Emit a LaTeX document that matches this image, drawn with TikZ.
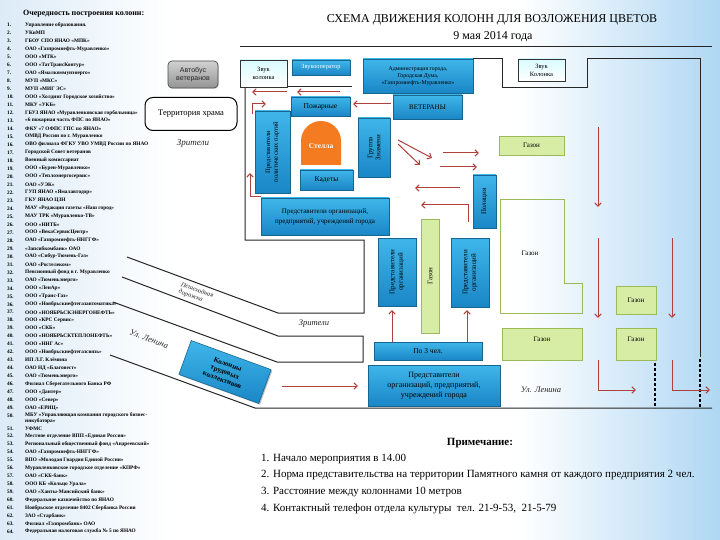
\documentclass[tikz,border=0pt]{standalone}
\usepackage{fontspec}
\setmainfont{Liberation Serif}
\setsansfont{Liberation Sans}
\usetikzlibrary{arrows.meta,shadows}
\definecolor{bluetop}{HTML}{3FB6EA}
\definecolor{bluebot}{HTML}{1A86C6}
\definecolor{blueedge}{HTML}{16668F}
\definecolor{grfill}{HTML}{D7EDA6}
\definecolor{gredge}{HTML}{9BBB59}
\definecolor{arrred}{HTML}{B0403C}
\definecolor{stellaor}{HTML}{F47B20}
\definecolor{bgblue}{HTML}{AFD7F3}
\definecolor{bgleft}{HTML}{DCEBF7}
\newcommand\fsz[2]{\fontsize{#1}{#2}\selectfont}
\begin{document}
\begin{tikzpicture}[x=1pt,y=-1pt,
  bluebox/.style={draw=blueedge, line width=0.6pt, top color=bluetop, bottom color=bluebot,
    inner sep=1pt, align=center, text=black,
    drop shadow={shadow xshift=1.2pt,shadow yshift=-1.2pt,fill=black,opacity=0.25}},
  greenbox/.style={draw=gredge, line width=0.9pt, fill=grfill, inner sep=1pt, align=center, font=\fsz{7}{8}},
  arr/.style={draw=arrred, line width=1pt, -{Straight Barb[length=3.5pt,width=6.5pt]}},
  road/.style={draw=black!85, line width=1pt},
  dotline/.style={draw=black, line width=2.6pt, dash pattern=on 2.6pt off 2.4pt},
  listnum/.style={anchor=west, inner sep=0pt, font=\fsz{5.3}{6}\bfseries},
  listitem/.style={anchor=west, inner sep=0pt, font=\fsz{5.3}{6}\bfseries},
  note/.style={anchor=west, inner sep=0pt, font=\fsz{11}{12}},
  lbl/.style={inner sep=0pt, font=\fsz{8.5}{10}\itshape, text=black!85}
]
\useasboundingbox (0,0) rectangle (720,540);
\fill[white] (0,0) rectangle (720,540);
\shade[left color=bgleft, right color=white] (0,0) rectangle (170,540);
\shade[left color=white, right color=bgblue] (520,0) rectangle (720,540);

% ---------- list ----------
\node[anchor=west, inner sep=0pt, font=\fsz{8}{9}\bfseries] (listtitle) at (23,14) {Очередность построения колонн:};
\foreach \t [count=\i] in {{Управление образования.},{УКиМП},{ГБОУ СПО ЯНАО «МПК»},{ОАО «Газпромнефть-Муравленко»},{ООО «МТК»},{ООО «ТатТрансКонтур»},{ОАО «Ямалкоммунэнерго»},{МУП «МКС»},{МУП «МИГ ЭС»},{ООО «Холдинг Городское хозяйство»},{МКУ «УКБ»},{ГБУЗ ЯНАО «Муравленковская горбольница»},{«6 пожарная часть ФПС по ЯНАО»},{ФКУ «7 ОФПС ГПС по ЯНАО»},{ОМВД России по г. Муравленко},{ОВО филиала ФГКУ УВО УМВД России по ЯНАО},{Городской Совет ветеранов},{Военный комиссариат},{ООО «Бурен-Муравленко»},{ООО «Теплоэнергосервис»},{ОАО «УЭК»},{ГУП ЯНАО «Ямалавтодор»},{ГКУ ЯНАО ЦЗН},{МАУ «Редакция газеты «Наш город»},{МАУ ТРК «Муравленко-ТВ»},{ООО «НИТБ»},{ООО «ВекаСервисЦентр»},{ОАО «Газпромнефть-ННГГФ»},{«Запсибкомбанк» ОАО},{ОАО «Сибур-Тюмень-Газ»},{ОАО «Ростелеком»},{Пенсионный фонд в г. Муравленко},{ОАО «Тюменьэнерго»},{ООО «ЛенАр»},{ООО «Транс-Газ»},{ООО «Ноябрьскнефтегазавтоматика»},{ООО «НОЯБРЬСКЭНЕРГОНЕФТЬ»},{ООО «КРС Сервис»},{ООО «СКБ»},{ООО «НОЯБРЬСКТЕПЛОНЕФТЬ»},{ООО «ННГ Ас»},{ООО «Ноябрьскнефтегазсвязь»},{ИП Л.Г. Клёмина},{ОАО НД «Благовест»},{ОАО «Тюменьэнерго»},{Филиал Сберегательного Банка РФ},{ООО «Дантер»},{ООО «Север»},{ОАО «ЕРИЦ»}}{
  \pgfmathsetmacro\yy{25+(\i-1)*7.98}
  \node[listnum] (ln\i) at (7,\yy) {\i.};
  \node[listitem] (li\i) at (25,\yy) {\t};
}
\node[listnum] (ln50) at (7,415.5) {50.};
\node[listitem] (li50) at (25,415.5) {МБУ «Управляющая компания городского бизнес-};
\node[listitem] (li50b) at (25,421.2) {инкубатора»};
\foreach \t [count=\i from 51] in {{УФМС},{Местное отделение ВПП «Единая Россия»},{Региональный общественный фонд «Андреевский»},{ОАО «Газпромнефть-ННГГФ»},{ВПО «Молодая Гвардия Единой России»},{Муравленковское городское отделение «КПРФ»},{ОАО «СКБ-банк»},{ООО КБ «Кольцо Урала»},{ОАО «Ханты-Мансийский банк»},{Федеральное казначейство по ЯНАО},{Ноябрьское отделение 8402 Сбербанка России},{ЗАО «Старбанк»},{Филиал «Газпромбанк» ОАО},{Федеральная налоговая служба № 5 по ЯНАО}}{
  \pgfmathsetmacro\yy{428.3+(\i-51)*7.95}
  \node[listnum] (ln\i) at (7,\yy) {\i.};
  \node[listitem] (li\i) at (25,\yy) {\t};
}

% ---------- titles ----------
\node[font=\fsz{12}{13}] (title) at (492,20) {СХЕМА ДВИЖЕНИЯ КОЛОНН ДЛЯ ВОЗЛОЖЕНИЯ ЦВЕТОВ};
\node[font=\fsz{12}{13}] (date) at (493,37) {9 мая 2014 года};
\draw[road] (240,47) -- (712,47);

% ---------- left side ----------
\node[draw=black!70, line width=0.7pt, rounded corners=4pt, top color=black!18, bottom color=black!42,
  minimum width=50, minimum height=27, align=center, font=\sffamily\fsz{7}{8.2}, text=black!85,
  drop shadow={shadow xshift=1pt,shadow yshift=-1pt,opacity=0.25}] (bus) at (193,74.5) {Автобус\\ветеранов};
\node[draw=black, line width=1pt, rounded corners=8pt, fill=white, minimum width=92, minimum height=33,
  font=\fsz{8.5}{10}] (temple) at (191,114) {Территория храма};
\node[lbl, font=\fsz{9}{10}\itshape] (zr1) at (193,143) {Зрители};

% ---------- outline lines ----------
\draw[road] (245,87) -- (245,240) -- (364,240) -- (364,313) -- (278,313) -- (127,257);
\draw[road] (287,87) -- (352,87);
\draw[road] (122,277) -- (278,336) -- (363,336) -- (363,362) -- (277,362) -- (113,302);
\draw[road] (110,355) -- (255,408) -- (712,408);
\draw[road] (473,59) -- (502,59) -- (502,88) -- (587,88) -- (587,59) -- (700,59) -- (700,357);
\draw[dotline] (700,359) -- (700,408);
\draw[dotline] (655,363) -- (655,408);

% ---------- speaker boxes ----------
\node[draw=black!80, line width=0.8pt, top color=blue!10!cyan!15, bottom color=white, minimum width=47, minimum height=27,
  align=center, font=\fsz{6.5}{8}] (zk1) at (263.5,73.5) {Звук\\колонка};
\node[draw=black!80, line width=0.8pt, top color=blue!10!cyan!15, bottom color=white, minimum width=47, minimum height=22,
  align=center, font=\fsz{6.5}{8}] (zk2) at (541.5,70) {Звук\\Колонка};

% ---------- blue boxes ----------
\node[bluebox, minimum width=58, minimum height=15, font=\fsz{6.3}{7}, text=white] (zvukop) at (321,67.5) {Звукооператор};
\node[bluebox, minimum width=110, minimum height=34, font=\fsz{5.8}{6.8}] (admin) at (418,76) {Администрация города,\\Городская Дума,\\«Газпромнефть-Муравленко»};
\node[bluebox, minimum width=69, minimum height=24, font=\fsz{7}{8}] (veterany) at (427.5,107) {ВЕТЕРАНЫ};
\node[bluebox, minimum width=59, minimum height=19, font=\fsz{7.5}{8}] (pozh) at (320.5,106.5) {Пожарные};
\node[bluebox, rotate=90, minimum width=82, minimum height=35, font=\fsz{6.6}{7.6}] (polit) at (272.5,152) {Представители\\политических партий};
\node[bluebox, rotate=90, minimum width=59, minimum height=32, font=\fsz{7}{8}] (znamya) at (374,147.5) {Группа\\Знамени};
\node[bluebox, minimum width=53, minimum height=20, font=\fsz{7.5}{8}] (kadety) at (326.5,180) {Кадеты};
\node[bluebox, rotate=90, minimum width=53, minimum height=23, font=\fsz{7}{8}] (policia) at (484.5,201.5) {Полиция};
\node[bluebox, minimum width=128, minimum height=37, font=\fsz{7}{10}] (pred1) at (325,216.5) {Представители организаций,\\предприятий, учреждений города};
\node[bluebox, rotate=90, minimum width=68, minimum height=38, font=\fsz{7}{8.5}] (predL) at (397,272) {Представители\\организаций};
\node[bluebox, rotate=90, minimum width=69, minimum height=38, font=\fsz{7}{8.5}] (predR) at (470,272.5) {Представители\\организаций};
\node[bluebox, minimum width=108, minimum height=18, font=\fsz{7.5}{8}] (po3) at (428,351) {По 3 чел.};
\node[bluebox, minimum width=132, minimum height=41, font=\fsz{8}{10}] (predB) at (434,385.5) {Представители\\организаций, предприятий,\\учреждений города};
\node[bluebox, rotate=-20, minimum width=85, minimum height=36, font=\fsz{7}{8.2}\bfseries] (kolonny) at (225,372) {Колонны\\трудовых\\коллективов};

% ---------- stella ----------
\fill[stellaor] (301,165) -- (301,141) arc[start angle=180,end angle=360,radius=20] -- (341,165) -- cycle;
\node[font=\fsz{7.5}{8}\bfseries, text=white] (stella) at (321,146) {Стелла};

% ---------- lawns ----------
\node[greenbox, minimum width=65, minimum height=19] (gaz1) at (531.5,145.5) {Газон};
\node[greenbox, rotate=90, minimum width=114, minimum height=18] (gazV) at (430,276) {Газон};
\draw[gredge, line width=0.9pt] (500,199) -- (564,199) -- (564,283) -- (582,283) -- (582,313) -- (500,313) -- cycle;
\node[font=\fsz{7}{8}] (gazL) at (530,253) {Газон};
\node[greenbox, minimum width=40, minimum height=28] (gaz3) at (636,300) {Газон};
\node[greenbox, minimum width=80, minimum height=32, text depth=10pt] (gaz4) at (542,344) {Газон};
\node[greenbox, minimum width=40, minimum height=32, text depth=10pt] (gaz5) at (636,344) {Газон};

% ---------- arrows ----------
\draw[arr] (287,92) -- (252,92);
\draw[arr] (340,92) -- (297,92);
\draw[arr] (252,114) -- (252,104) -- (266,104);
\draw[arr] (391,104) -- (353,104);
\draw[arr] (398,140) -- (432,158);
\draw[arr] (398,144) -- (420,165);
\draw[arr] (443,153) -- (479,153);
\draw[arr] (440,167) -- (477,167);
\draw[arr] (460,188) -- (415,188);
\draw[arr] (468,222) -- (468,205) -- (421,205);
\draw[arr] (261,197) -- (250,197) -- (250,173);
\draw[arr] (598,127) -- (598,207);
\draw[arr] (598,238) -- (598,318);
\draw[arr] (672,238) -- (672,318);
\draw[arr] (598,360) -- (598,390) -- (636,390);
\draw[arr] (672,360) -- (672,390) -- (710,390);
\draw[arr] (282,386) -- (358,386);
\draw[arr] (po3.north -| 392,0) -- (392,310);
\draw[arr] (po3.north -| 467,0) -- (467,310);

% ---------- street labels ----------
\node[lbl, font=\fsz{6.5}{7}\itshape, rotate=-20, align=left] (peshe) at (196,294) {Пешеходная\\дорожка};
\node[lbl, rotate=-20] (ul1) at (149,339) {Ул. Ленина};
\node[lbl] (zr2) at (314,324) {Зрители};
\node[lbl] (ul2) at (541,390) {Ул. Ленина};

% ---------- notes ----------
\node[font=\fsz{11}{12}\bfseries] (primech) at (480,443) {Примечание:};
\node[note] (n1) at (261,459) {1. Начало мероприятия в 14.00};
\node[note] (n2) at (261,475.5) {2. Норма представительства на территории Памятного камня от каждого предприятия 2 чел.};
\node[note] (n3) at (261,492) {3. Расстояние между колоннами 10 метров};
\node[note] (n4) at (261,508.5) {4. Контактный телефон отдела культуры\ \ тел. 21-9-53,\ \ 21-5-79};
\end{tikzpicture}
\end{document}
